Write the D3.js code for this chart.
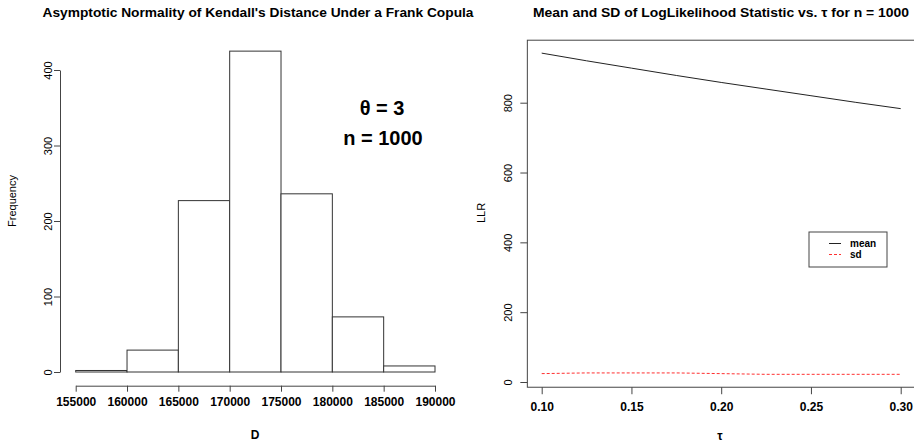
<!DOCTYPE html>
<html>
  <head>
    <style>
    body { margin: 0px; overflow: hidden; background: white; }
    text { font-family: "Liberation Sans", Arial, sans-serif; fill: black; }
    .domain, .tick line { stroke: #444; }
    </style>
    <script src="https://d3js.org/d3.v7.min.js"></script>
  </head>
  <body>
    <svg width="914" height="443"></svg>
    <script>
    // histogram of Kendall's distance
    const binEdges = [155000, 160000, 165000, 170000, 175000, 180000, 185000, 190000];
    const binCounts = [2, 29, 227, 425, 236, 73, 8];
    const histXTicks = [155000, 160000, 165000, 170000, 175000, 180000, 185000, 190000];
    const histYTicks = [0, 100, 200, 300, 400];

    // mean and sd of LLR vs tau
    const tau = [0.100, 0.125, 0.150, 0.175, 0.200, 0.225, 0.250, 0.275, 0.300];
    const llrMean = [942, 920, 899, 878, 858, 839, 820, 801, 783];
    const llrSd = [24, 26, 26, 26, 24, 22, 22, 22, 22];
    const tauTicks = [0.10, 0.15, 0.20, 0.25, 0.30];
    const llrTicks = [0, 200, 400, 600, 800];

    const svg = d3.select('svg');

    // ---------- left panel ----------
    const x1 = d3.scaleLinear().domain([155000, 190000]).range([75.7, 435]);
    const y1 = d3.scaleLinear().domain([0, 400]).range([372, 70]);

    const left = svg.append('g');

    left.selectAll('rect').data(binCounts)
      .enter().append('rect')
      .attr('x', (d, i) => x1(binEdges[i]))
      .attr('width', (d, i) => x1(binEdges[i + 1]) - x1(binEdges[i]))
      .attr('y', d => y1(d))
      .attr('height', d => y1(0) - y1(d))
      .attr('fill', 'white')
      .attr('stroke', '#333')
      .attr('stroke-width', 1);

    const xAxis1 = left.append('g')
      .attr('transform', 'translate(0,385.7)')
      .call(d3.axisBottom(x1).tickValues(histXTicks).tickFormat(d3.format('d')).tickSize(6).tickSizeOuter(0));
    xAxis1.selectAll('text')
      .attr('y', 20).attr('dy', 0)
      .attr('font-size', 12).attr('font-weight', 'bold')
      .attr('font-family', '"Liberation Sans", Arial, sans-serif');

    const yAxis1 = left.append('g')
      .attr('transform', 'translate(60,0)')
      .call(d3.axisLeft(y1).tickValues(histYTicks).tickSize(6).tickSizeOuter(0));
    yAxis1.selectAll('text')
      .attr('transform', 'rotate(-90)')
      .attr('x', 0).attr('y', -8).attr('dy', 0)
      .attr('text-anchor', 'middle')
      .attr('font-size', 11)
      .attr('font-family', '"Liberation Sans", Arial, sans-serif');

    left.append('text')
      .attr('x', 258).attr('y', 17)
      .attr('text-anchor', 'middle')
      .attr('font-size', 12).attr('font-weight', 'bold')
      .attr('textLength', 431).attr('lengthAdjust', 'spacingAndGlyphs')
      .text("Asymptotic Normality of Kendall's Distance Under a Frank Copula");

    left.append('text')
      .attr('x', 255).attr('y', 439)
      .attr('text-anchor', 'middle')
      .attr('font-size', 12).attr('font-weight', 'bold')
      .text('D');

    left.append('text')
      .attr('transform', 'translate(16,201) rotate(-90)')
      .attr('text-anchor', 'middle')
      .attr('font-size', 11)
      .text('Frequency');

    left.append('text')
      .attr('x', 382).attr('y', 115)
      .attr('text-anchor', 'middle')
      .attr('font-size', 20).attr('font-weight', 'bold')
      .text('\u03b8 = 3');

    left.append('text')
      .attr('x', 383).attr('y', 145)
      .attr('text-anchor', 'middle')
      .attr('font-size', 20).attr('font-weight', 'bold')
      .text('n = 1000');

    // ---------- right panel ----------
    const x2 = d3.scaleLinear().domain([0.1, 0.3]).range([541.7, 900.7]);
    const y2 = d3.scaleLinear().domain([0, 800]).range([382, 102.7]);

    const right = svg.append('g');

    right.append('rect')
      .attr('x', x2(0.092)).attr('y', y2(979))
      .attr('width', x2(0.308) - x2(0.092))
      .attr('height', y2(-15) - y2(979))
      .attr('fill', 'none').attr('stroke', '#444');

    const line = v => d3.line().x((d, i) => x2(tau[i])).y(d => y2(d))(v);

    right.append('path')
      .attr('d', line(llrMean))
      .attr('fill', 'none').attr('stroke', '#222').attr('stroke-width', 1);

    right.append('path')
      .attr('d', line(llrSd))
      .attr('fill', 'none').attr('stroke', '#ff3030').attr('stroke-width', 1)
      .attr('stroke-dasharray', '3,2');

    const xAxis2 = right.append('g')
      .attr('transform', `translate(0,${y2(-15)})`)
      .call(d3.axisBottom(x2).tickValues(tauTicks).tickFormat(d3.format('.2f')).tickSize(7).tickSizeOuter(0));
    xAxis2.select('.domain').remove();
    xAxis2.selectAll('text')
      .attr('y', 24).attr('dy', 0)
      .attr('font-size', 12).attr('font-weight', 'bold')
      .attr('font-family', '"Liberation Sans", Arial, sans-serif');

    const yAxis2 = right.append('g')
      .attr('transform', `translate(${x2(0.092)},0)`)
      .call(d3.axisLeft(y2).tickValues(llrTicks).tickSize(7).tickSizeOuter(0));
    yAxis2.select('.domain').remove();
    yAxis2.selectAll('text')
      .attr('transform', 'rotate(-90)')
      .attr('x', 0).attr('y', -15).attr('dy', 0)
      .attr('text-anchor', 'middle')
      .attr('font-size', 11)
      .attr('font-family', '"Liberation Sans", Arial, sans-serif');

    right.append('text')
      .attr('x', 721).attr('y', 17)
      .attr('text-anchor', 'middle')
      .attr('font-size', 12).attr('font-weight', 'bold')
      .attr('textLength', 376).attr('lengthAdjust', 'spacingAndGlyphs')
      .text('Mean and SD of LogLikelihood Statistic vs. \u03c4 for n = 1000');

    right.append('text')
      .attr('x', 720).attr('y', 440)
      .attr('text-anchor', 'middle')
      .attr('font-size', 12).attr('font-weight', 'bold')
      .text('\u03c4');

    right.append('text')
      .attr('transform', 'translate(485,213) rotate(-90)')
      .attr('text-anchor', 'middle')
      .attr('font-size', 11)
      .text('LLR');

    // legend
    const legendItems = [
      { name: 'mean', color: '#222', dash: null },
      { name: 'sd', color: '#ff3030', dash: '3,2' }
    ];
    const legend = right.append('g');
    legend.append('rect')
      .attr('x', 809).attr('y', 232).attr('width', 78).attr('height', 35)
      .attr('fill', 'white').attr('stroke', '#444');
    legend.selectAll('line').data(legendItems)
      .enter().append('line')
      .attr('x1', 829).attr('x2', 841)
      .attr('y1', (d, i) => 243.5 + i * 11).attr('y2', (d, i) => 243.5 + i * 11)
      .attr('stroke', d => d.color)
      .attr('stroke-dasharray', d => d.dash);
    legend.selectAll('text').data(legendItems)
      .enter().append('text')
      .attr('x', 850)
      .attr('y', (d, i) => 247 + i * 11)
      .attr('font-size', 10).attr('font-weight', 'bold')
      .text(d => d.name);
    </script>
  </body>
</html>
